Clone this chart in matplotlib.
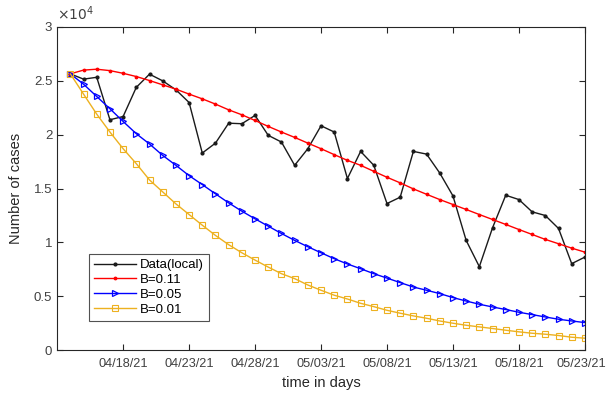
import matplotlib
matplotlib.use("Agg")
import matplotlib.pyplot as plt
import matplotlib.dates as mdates
import matplotlib.transforms as mtransforms
import numpy as np
import pandas as pd

plt.rcParams['font.family'] = ['Liberation Sans', 'DejaVu Sans']

# daily values, 04/14/21 .. 05/23/21
days = pd.date_range('2021-04-14', periods=40, freq='D')

data_local = [25650, 25160, 25330, 21390, 21690, 24400, 25620, 25000, 24170, 22990,
              18300, 19220, 21070, 21020, 21790, 19940, 19320, 17160, 18700, 20830,
              20250, 15930, 18450, 17160, 13610, 14200, 18450, 18200, 16440, 14320,
              10190, 7750, 11360, 14380, 13980, 12840, 12500, 11300, 8030, 8640]

b_011 = [25650, 26000, 26080, 25950, 25700, 25400, 25030, 24630, 24230, 23770,
         23330, 22840, 22310, 21850, 21320, 20770, 20250, 19750, 19220, 18700,
         18150, 17620, 17160, 16600, 16050, 15530, 14970, 14470, 13980, 13520,
         13060, 12590, 12130, 11670, 11200, 10740, 10280, 9880, 9470, 9100]

b_005 = [25650, 24690, 23550, 22410, 21230, 20090, 19140, 18080, 17160, 16200,
         15370, 14510, 13670, 12900, 12190, 11510, 10830, 10190, 9600, 9040,
         8490, 8000, 7560, 7100, 6690, 6270, 5860, 5560, 5250, 4880,
         4560, 4260, 4010, 3770, 3520, 3300, 3080, 2870, 2710, 2560]

b_001 = [25650, 23770, 21910, 20250, 18700, 17310, 15800, 14690, 13580, 12590,
         11600, 10650, 9790, 9040, 8360, 7710, 7100, 6640, 6050, 5560,
         5100, 4750, 4350, 4040, 3700, 3430, 3180, 2960, 2710, 2500,
         2310, 2160, 2010, 1850, 1700, 1570, 1480, 1360, 1200, 1110]

y_ticks = [0, 5000, 10000, 15000, 20000, 25000, 30000]
y_tick_labels = ['0', '0.5', '1', '1.5', '2', '2.5', '3']

fig = plt.figure(figsize=(6.08, 3.97), dpi=100)
ax = fig.add_axes([0.094, 0.118, 0.868, 0.814])

ax.plot(days, data_local, '-', color='#1a1a1a', lw=1.0, marker='.', ms=4, label='Data(local)')
ax.plot(days, b_011, '-', color='#ff0000', lw=1.0, marker='.', ms=3.5, label='B=0.11')
ax.plot(days, b_005, '-', color='#0000ff', lw=1.0, marker='>', ms=5, mfc='none', mew=0.9, label='B=0.05')
ax.plot(days, b_001, '-', color='#edb120', lw=1.0, marker='s', ms=4, mfc='none', mew=0.8, label='B=0.01')

ax.set_xlim(pd.Timestamp('2021-04-13'), pd.Timestamp('2021-05-23'))
ax.set_ylim(0, 30000)
xt = pd.date_range('2021-04-18', '2021-05-23', freq='5D')
ax.set_xticks(xt)
ax.xaxis.set_major_formatter(mdates.DateFormatter('%m/%d/%y'))
ax.set_yticks(y_ticks)
ax.set_yticklabels(y_tick_labels)

grey = '#262626'
for s in ax.spines.values():
    s.set_color(grey)
    s.set_linewidth(0.8)
ax.tick_params(direction='in', top=True, right=True, length=4, width=0.8,
               colors=grey, labelsize=9.5, labelcolor='#404040')
ax.tick_params(axis='x', pad=6, labelsize=9.2)

# nudge the last date label so it stays inside the figure
last = ax.get_xticklabels()[-1]
last.set_transform(last.get_transform() +
                   mtransforms.ScaledTranslation(-4 / 100, 0, fig.dpi_scale_trans))

ax.text(0.0, 1.012, r'$\times10^{4}$', transform=ax.transAxes, fontsize=10,
        color='#404040', ha='left', va='bottom')

ax.set_xlabel('time in days', fontsize=10.5, color='#262626', labelpad=4)
ax.set_ylabel('Number of cases', fontsize=10.5, color='#262626', labelpad=8)

leg = ax.legend(loc='lower left', bbox_to_anchor=(0.06, 0.09), fontsize=9.5,
                frameon=True, fancybox=False, borderpad=0.4, labelspacing=0.2,
                handlelength=3.2, handletextpad=0.3, borderaxespad=0)
leg.get_frame().set_edgecolor('#262626')
leg.get_frame().set_linewidth(0.8)

fig.savefig('out.png', dpi=100)
